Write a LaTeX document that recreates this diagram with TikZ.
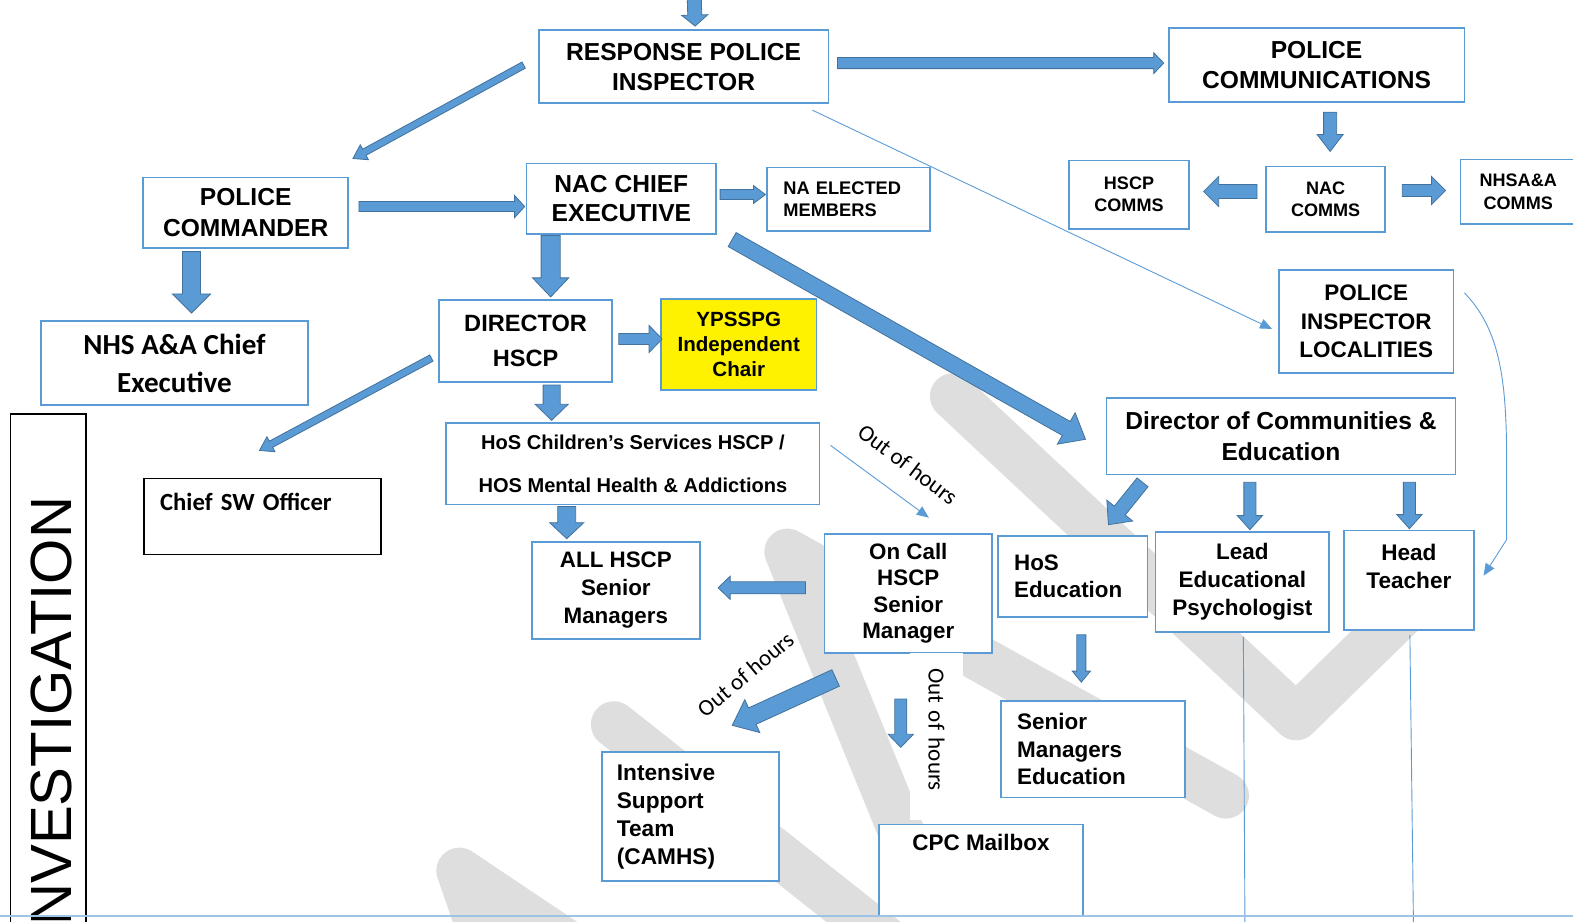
\documentclass[tikz,border=0pt]{standalone}
\usepackage{fontspec}
\setmainfont{Liberation Sans}
\newfontfamily\calfont{Carlito}
\usetikzlibrary{calc,arrows.meta}

\definecolor{boxblue}{HTML}{5B9BD5}
\definecolor{arrowedge}{HTML}{41719C}
\definecolor{markgray}{HTML}{DEDEDE}
\definecolor{ruleblue}{HTML}{9DC3E6}

\newcommand{\fs}[2]{\fontsize{#1}{#2}\selectfont}
\newcommand{\fatarrow}[7]{%
  \coordinate (fa-s) at ($(#1)+(#2)$);
  \coordinate (fa-e) at ($(#3)+(#4)$);
  \filldraw[fatarrow] ($(fa-s)!#5!-90:(fa-e)$)
    -- ($(fa-e)!#7!(fa-s)!#5!90:(fa-s)$)
    -- ($(fa-e)!#7!(fa-s)!#6!90:(fa-s)$)
    -- (fa-e)
    -- ($(fa-e)!#7!(fa-s)!#6!-90:(fa-s)$)
    -- ($(fa-e)!#7!(fa-s)!#5!-90:(fa-s)$)
    -- ($(fa-s)!#5!90:(fa-e)$) -- cycle;}

\tikzset{
  box/.style={draw=boxblue, line width=1.8pt, fill=white, align=center, inner sep=0pt, anchor=north west},
  leftbox/.style={box, align=left, inner xsep=16pt},
  blackbox/.style={box, draw=black, line width=1.3pt},
  fatarrow/.style={draw=arrowedge, fill=boxblue, line width=0.8pt},
  thinarrow/.style={draw=boxblue, line width=0.9pt, -{Triangle[length=12pt,width=10pt]}},
  thinline/.style={draw=boxblue, line width=0.9pt},
  ooh/.style={font=\calfont\fs{23}{27}, inner sep=0pt},
  wmark/.style={draw=markgray, line width=46pt, line cap=round, line join=round}
}

\begin{document}
\begin{tikzpicture}[x=1pt, y=-1pt]
\useasboundingbox (0,0) rectangle (1568,919);
\clip (0,0) rectangle (1568,919);

\draw[wmark] (950,395) -- (1292,715) -- (1425,585);
\draw[wmark] (915,870) -- (785,550) -- (1222,793);
\draw[wmark] (612,722) -- (900,950);
\draw[wmark] (490,960) -- (458,868) -- (640,990);

\node[box, minimum width=289pt, minimum height=73pt, font=\bfseries\fs{24.5}{30}] (resp) at (536,29) {RESPONSE POLICE\\INSPECTOR};
\node[box, minimum width=295pt, minimum height=74pt, font=\bfseries\fs{24.5}{30}] (comms) at (1164,27) {POLICE\\COMMUNICATIONS};
\node[box, minimum width=204pt, minimum height=70pt, font=\bfseries\fs{24.5}{31}] (cmdr) at (142,176) {POLICE\\COMMANDER};
\node[box, minimum width=189pt, minimum height=70pt, font=\bfseries\fs{24.5}{29}] (nacce) at (524,162) {NAC CHIEF\\EXECUTIVE};
\node[leftbox, text width=130pt, minimum height=63pt, font=\bfseries\fs{18.2}{22}] (elected) at (764,166) {NA ELECTED\\MEMBERS};
\node[box, minimum width=119pt, minimum height=68pt, font=\bfseries\fs{18}{22}] (hscpcomms) at (1065,159) {HSCP\\COMMS};
\node[box, minimum width=119pt, minimum height=65pt, font=\bfseries\fs{18}{22}] (naccomms) at (1261,165) {NAC\\COMMS};
\node[box, minimum width=115pt, minimum height=64pt, font=\bfseries\fs{18}{23}] (nhscomms) at (1455,158) {NHSA\&A\\COMMS};
\node[box, minimum width=266pt, minimum height=84pt, font=\calfont\bfseries\fs{29}{38}] (nhsce) at (40,319) {NHS A\&A Chief\\Executive};
\node[box, minimum width=172pt, minimum height=82pt, font=\bfseries\fs{23.5}{35}] (dirhscp) at (437,298) {DIRECTOR\\HSCP};
\node[box, fill=yellow, minimum width=155pt, minimum height=91pt, font=\bfseries\fs{20.5}{25}] (ypsspg) at (658,297) {YPSSPG\\Independent\\Chair};
\node[box, minimum width=174pt, minimum height=103pt, font=\bfseries\fs{22.4}{28.5}] (pil) at (1274,268) {POLICE\\INSPECTOR\\LOCALITIES};
\node[box, minimum width=348pt, minimum height=76pt, font=\bfseries\fs{24.5}{31}] (dce) at (1102,396) {Director of Communities \&\\Education};
\node[box, minimum width=372pt, minimum height=81pt, font=\bfseries\fs{20}{42}] (hos) at (444,421) {HoS Children’s Services HSCP /\\HOS Mental Health \& Addictions};
\node[blackbox, align=left, inner xsep=16pt, text width=204pt, minimum height=76pt, font=\calfont\bfseries\fs{24.6}{28}] (csw) at (143,476) {Chief SW Officer\\~};
\node[box, minimum width=168pt, minimum height=97pt, font=\bfseries\fs{22.3}{28}] (allhscp) at (529,539) {ALL HSCP\\Senior\\Managers};
\node[box, minimum width=167pt, minimum height=119pt, font=\bfseries\fs{22.3}{26}] (oncall) at (821,531) {On Call\\HSCP\\Senior\\Manager};
\node[leftbox, text width=117pt, minimum height=81pt, font=\bfseries\fs{22.3}{27}] (hosedu) at (994,533) {HoS\\Education};
\node[box, minimum width=173pt, minimum height=100pt, font=\bfseries\fs{22.4}{28}] (lep) at (1151,529) {Lead\\Educational\\Psychologist};
\node[box, minimum width=129pt, minimum height=99pt, font=\bfseries\fs{22.5}{28}] (head) at (1339,528) {Head\\Teacher\\~};
\node[leftbox, inner xsep=15pt, text width=147pt, minimum height=128pt, font=\bfseries\fs{22.6}{28}] (ist) at (599,749) {Intensive\\Support\\Team\\(CAMHS)};
\node[leftbox, text width=151pt, minimum height=96pt, font=\bfseries\fs{22.4}{27.5}] (sme) at (997,698) {Senior\\Managers\\Education};
\node[box, minimum width=204pt, minimum height=91pt, font=\bfseries\fs{22.4}{28}] (cpc) at (875,821) {CPC Mailbox\\~\\~};

\node[blackbox, minimum width=75pt, minimum height=540pt] (inv) at (10,412) {};
\node[rotate=90, anchor=east, inner sep=0pt, font=\fs{58}{58}] (invtext) at ($(inv.north)+(3,83)$) {INVESTIGATION};

\node[ooh, rotate=-37] (ooh1) at (905,463) {Out of hours};
\node[ooh, rotate=40] (ooh2) at (743,672) {Out of hours};
\node[ooh, rotate=-90, fill=white, text width=136pt, align=left, inner xsep=15pt, minimum height=53pt] (ooh3) at (933.5,734) {Out of hours};

\coordinate (callin) at (692,-4);
\coordinate (lepfoot) at (1241,925);
\coordinate (headfoot) at (1409,925);

\fatarrow{callin}{0,0}{resp.north}{11.5,-3}{7pt}{13pt}{11pt}
\fatarrow{resp.west}{-14,-1.5}{cmdr.north east}{4,-18}{3.5pt}{8.5pt}{13pt}
\fatarrow{resp.east}{8,-3.5}{comms.west}{-4,-2}{5.5pt}{10.5pt}{10pt}
\fatarrow{comms.south}{13.5,9}{naccomms.north}{4.5,-14}{6.5pt}{13pt}{17pt}
\fatarrow{naccomms.west}{-8,-7.5}{hscpcomms.east}{14,-3}{7pt}{15pt}{15pt}
\fatarrow{naccomms.east}{16,-8.5}{nhscomms.west}{-14,-1}{6pt}{14pt}{14pt}
\fatarrow{cmdr.east}{10,-6}{nacce.west}{-1,8}{5pt}{11pt}{10pt}
\fatarrow{nacce.east}{3,-4}{elected.west}{-1,-4.5}{5pt}{9pt}{12pt}
\fatarrow{cmdr.south}{-54,3}{nhsce.north}{17,-7}{9pt}{19pt}{19pt}
\fatarrow{nacce.south}{-70.5,1}{dirhscp.north}{25,-2}{9.5pt}{18pt}{19pt}
\fatarrow{nacce.south east}{15,5}{dce.west}{-20,3}{8pt}{18pt}{22pt}
\fatarrow{dirhscp.east}{6,-2}{ypsspg.west}{2,-5.5}{5.5pt}{13.5pt}{13pt}
\fatarrow{dirhscp.west}{-7,17}{csw.north}{-3,-27}{3.5pt}{8.5pt}{13pt}
\fatarrow{dirhscp.south}{26,2}{hos.north}{-81,-2}{8.5pt}{16.5pt}{16pt}
\fatarrow{hos.south}{-66,1}{allhscp.north}{-49,-2}{9pt}{17pt}{16pt}
\fatarrow{oncall.west}{-18,-5.5}{allhscp.east}{17,-2.5}{6pt}{11.5pt}{12pt}
\fatarrow{oncall.south west}{12,24}{ist.north}{41.5,-26}{9pt}{18pt}{22pt}
\fatarrow{oncall.south}{-7.5,45}{cpc.north}{-80,-76}{6pt}{12.5pt}{13pt}
\fatarrow{dce.south}{-138,7}{hosedu.north}{35.5,-10}{7pt}{16.5pt}{18pt}
\fatarrow{dce.south}{-31,7}{lep.north}{7.5,-1}{6pt}{12.5pt}{14pt}
\fatarrow{dce.south}{128,7}{head.north}{0.5,-1}{6pt}{12.5pt}{14pt}
\fatarrow{hosedu.south}{8.5,17}{sme.north}{-11.5,-18}{4.5pt}{9pt}{11pt}

\draw[thinarrow] ($(resp.south east)+(-17,6)$) -- ($(pil.west)+(-6,7.5)$);
\draw[thinarrow] ($(hos.east)+(10,-18.5)$) -- ($(oncall.north)+(20.5,-15)$);
\draw[thinarrow] ($(pil.north east)+(10,24)$) .. controls ($(pil.north east)+(45,60)$) and ($(pil.north east)+(52,110)$) .. ($(pil.north east)+(52,190)$) -- ($(pil.north east)+(52,270)$) -- ($(head.east)+(9,-4.5)$);
\draw[thinline] ($(lep.south)+(1,4)$) -- (lepfoot);
\draw[thinline] ($(head.south)+(1,4)$) -- (headfoot);
\draw[ruleblue, line width=1.2pt] (0,913) -- (1568,913);
\end{tikzpicture}
\end{document}
